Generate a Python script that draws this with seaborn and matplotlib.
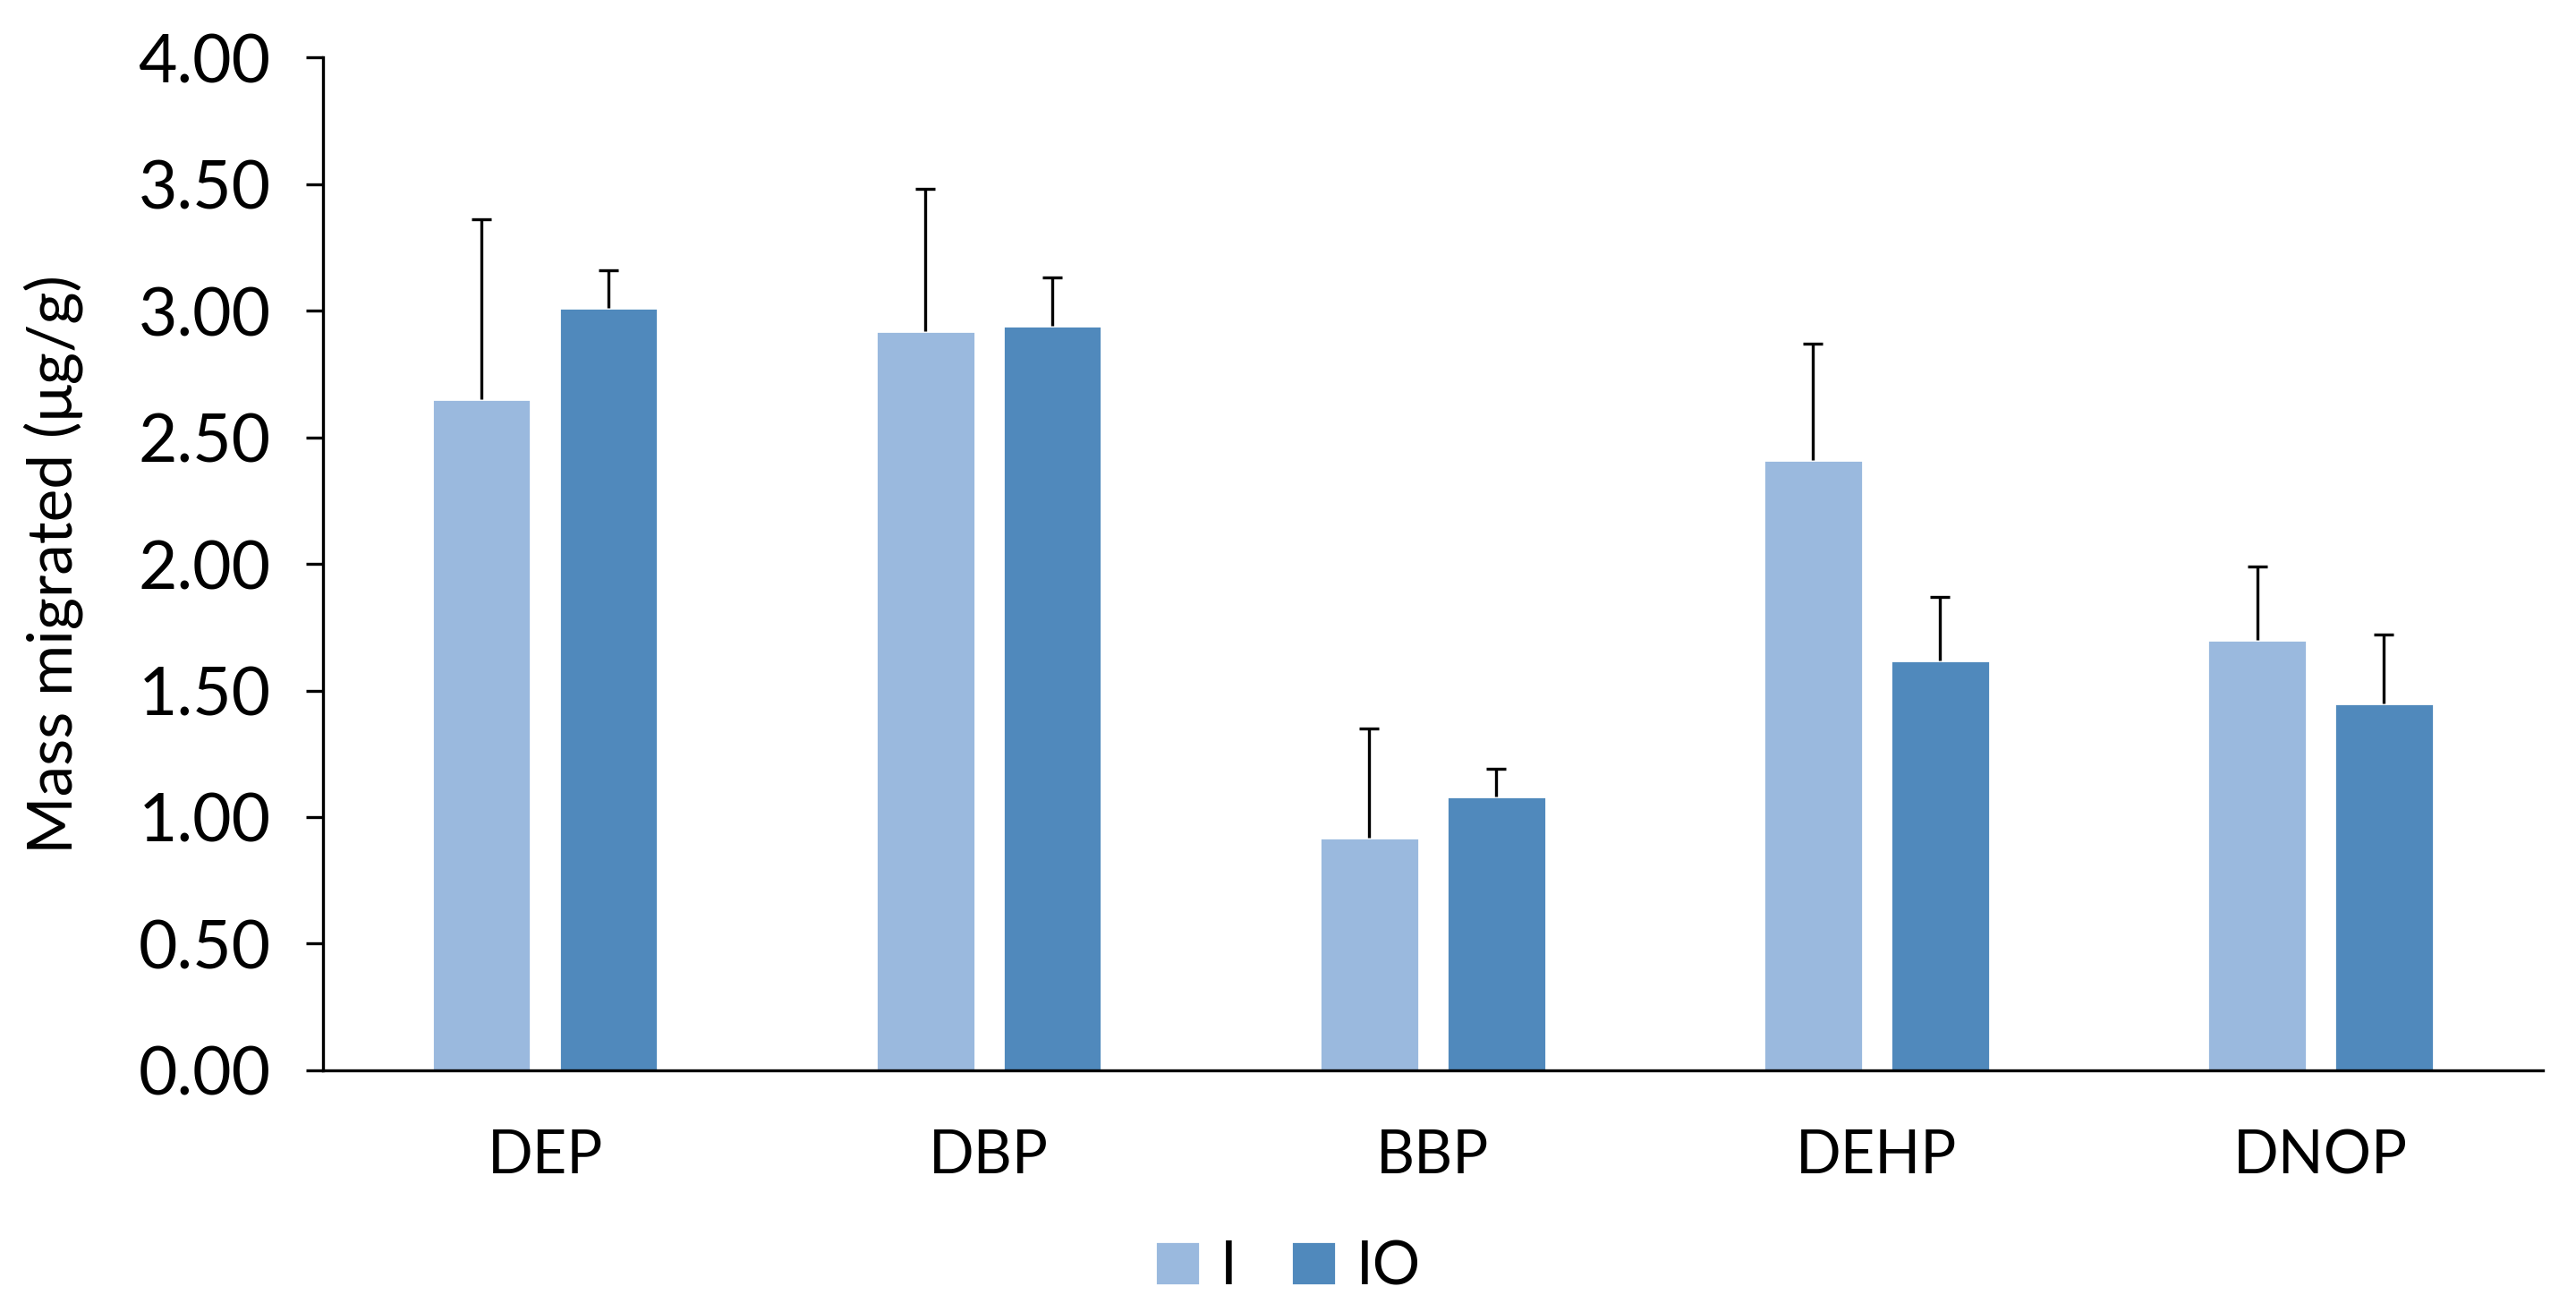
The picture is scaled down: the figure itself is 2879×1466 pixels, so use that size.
import numpy as np
import pandas as pd
import matplotlib
matplotlib.use("Agg")
import matplotlib.pyplot as plt
import seaborn as sns
from matplotlib.ticker import FormatStrFormatter

# values
compounds = ['DEP', 'DBP', 'BBP', 'DEHP', 'DNOP']
groups = ['I', 'IO']
mean_i = [2.65, 2.92, 0.92, 2.41, 1.70]
mean_io = [3.01, 2.94, 1.08, 1.62, 1.45]
err_i = [0.71, 0.56, 0.43, 0.46, 0.29]
err_io = [0.15, 0.19, 0.11, 0.25, 0.27]
colors = ['#9AB9DE', '#5089BC']

df = pd.DataFrame({
    'compound': compounds * 2,
    'group': ['I'] * len(compounds) + ['IO'] * len(compounds),
    'mass': mean_i + mean_io,
    'err': err_i + err_io,
})

sns.set_style('white')
plt.rcParams['font.family'] = ['Lato', 'DejaVu Sans']
plt.rcParams['text.color'] = 'black'
plt.rcParams['axes.labelcolor'] = 'black'
plt.rcParams['xtick.color'] = 'black'
plt.rcParams['ytick.color'] = 'black'

fig = plt.figure(figsize=(14.395, 7.33), dpi=200)
ax = fig.add_axes([0.1254, 0.1842, 0.8616, 0.7721])

sns.barplot(data=df, x='compound', y='mass', hue='group', order=compounds,
            hue_order=groups, palette=colors, width=0.572, gap=0.22,
            saturation=1, errorbar=None, ax=ax, legend=True)

# one-sided error bars on top of each bar
for cont, g in zip(ax.containers, groups):
    sub = df[df['group'] == g]
    xs = [p.get_x() + p.get_width() / 2 for p in cont.patches]
    eb = ax.errorbar(xs, sub['mass'].values,
                     yerr=[np.zeros(len(xs)), sub['err'].values],
                     fmt='none', ecolor='black', elinewidth=1.2, capsize=4,
                     capthick=1.2)
    # hide the caps at the bottom (zero-length side)
    eb[1][0].set_visible(False)

ax.set_ylim(0, 4)
ax.set_xlim(-0.5, 4.5)
ax.set_yticks(np.arange(0, 4.01, 0.5))
ax.yaxis.set_major_formatter(FormatStrFormatter('%.2f'))
ax.set_ylabel('Mass migrated (μg/g)', fontsize=25, labelpad=22)
ax.set_xlabel('')

sns.despine(ax=ax, top=True, right=True)
ax.spines['left'].set_color('black')
ax.spines['bottom'].set_color('black')
ax.spines['left'].set_linewidth(1.2)
ax.spines['bottom'].set_linewidth(1.2)
ax.tick_params(axis='y', which='major', left=True, length=7, width=1.2,
               color='black', labelsize=27, pad=14)
ax.tick_params(axis='x', bottom=False, labelsize=24, pad=20)

handles, labels = ax.get_legend_handles_labels()
ax.get_legend().remove()
fig.legend(handles, labels, loc='lower center', bbox_to_anchor=(0.5, -0.028),
           ncol=2, frameon=False, fontsize=24, handlelength=0.75,
           handleheight=0.75, handletextpad=0.35, columnspacing=0.9)

fig.savefig('out.png', dpi=200)
